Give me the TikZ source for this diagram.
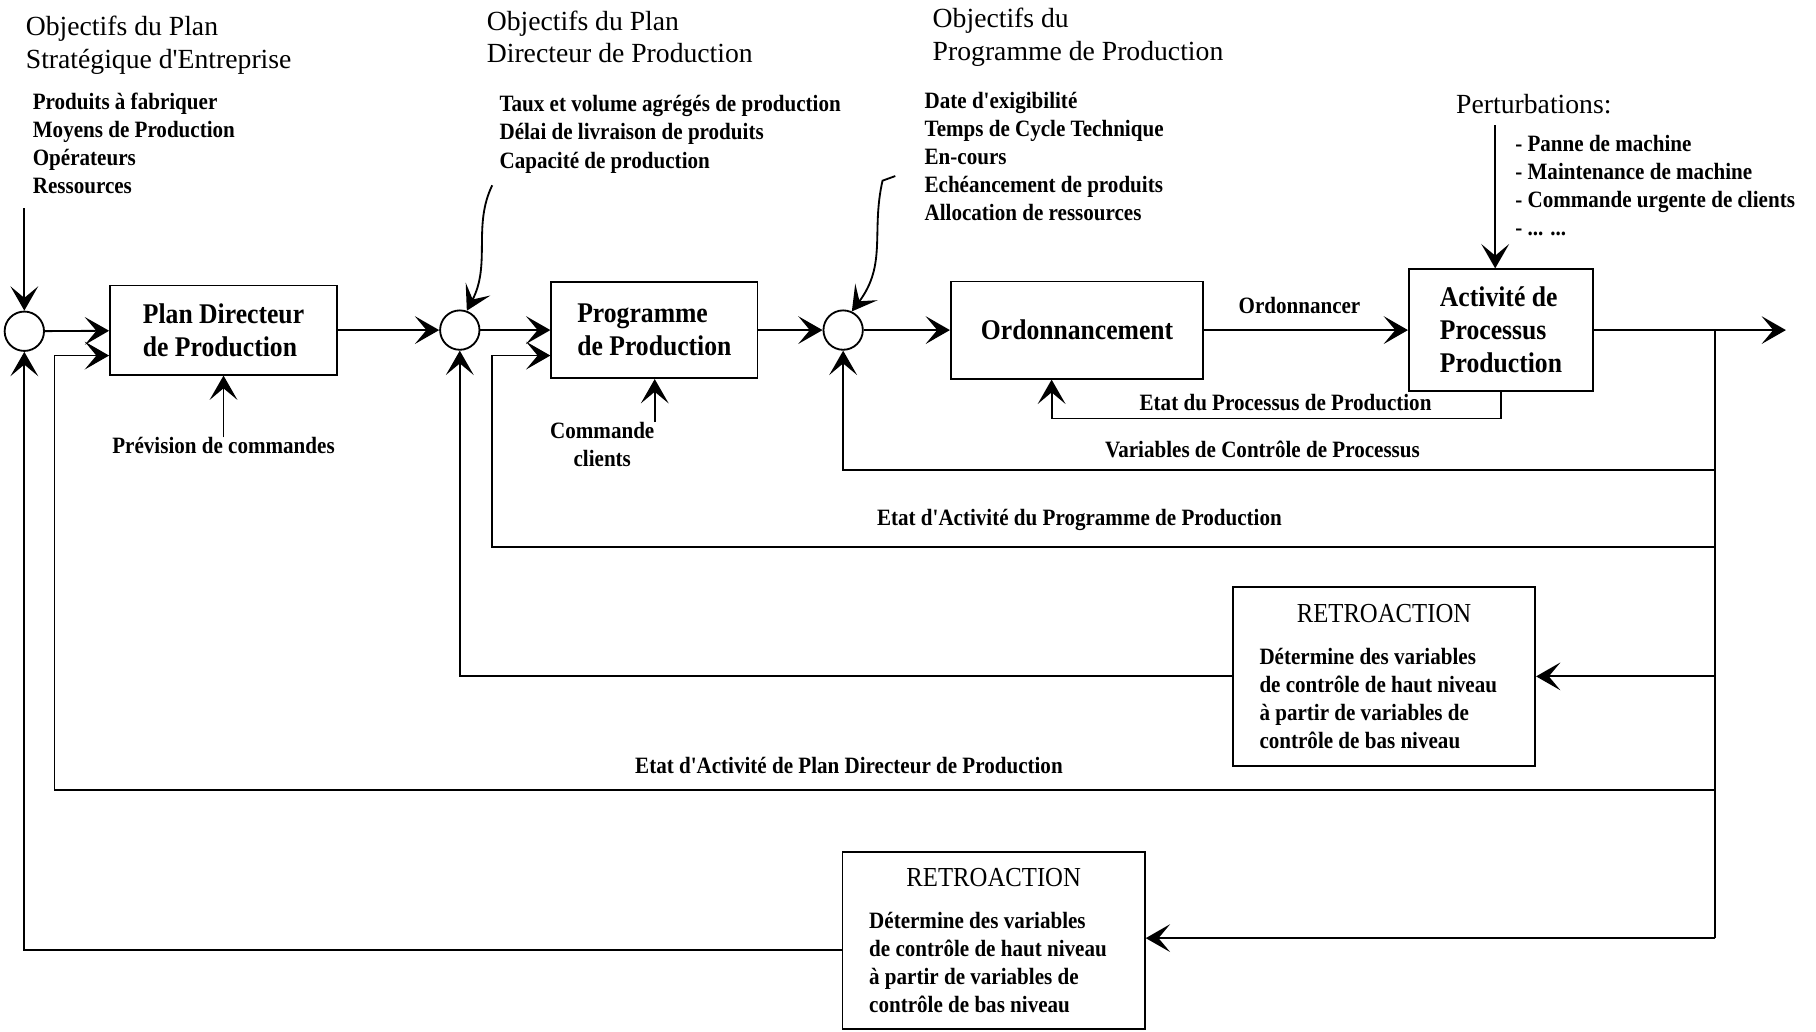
\documentclass[tikz,border=0pt]{standalone}
\usepackage{fontspec}
\setmainfont{Liberation Serif}
\newfontfamily\narrowfont[FakeStretch=0.9]{Liberation Serif}
\usepackage{tikz}
\usetikzlibrary{arrows.meta,positioning,calc}

\begin{document}
\begin{tikzpicture}[
    x=0.2mm, y=-0.2mm,
    box/.style={draw, line width=0.9pt, align=flush left, font=\narrowfont\bfseries\fontsize{14}{16.2}\selectfont},
    sum/.style={circle, draw, line width=0.9pt, minimum size=6.8mm, inner sep=0pt},
    retro/.style={draw, line width=0.9pt, align=flush left, inner xsep=4.6mm, inner ysep=2mm, text width=43mm, minimum width=52.2mm, font=\narrowfont\bfseries\fontsize{11.5}{13.7}\selectfont},
    title/.style={anchor=west, align=flush left, inner sep=0pt, font=\fontsize{13.6}{16}\selectfont},
    list/.style={anchor=west, align=flush left, inner sep=0pt, font=\narrowfont\bfseries\fontsize{11.5}{13.8}\selectfont},
    lbl/.style={inner sep=0pt, font=\narrowfont\bfseries\fontsize{11.5}{13.8}\selectfont},
    arrow/.style={-{Stealth[length=4.2mm, width=4.8mm, inset=2mm]}, line width=0.9pt},
    wire/.style={line width=0.9pt}
]
\useasboundingbox (0,0) rectangle (1568,891);

% Objectives
\node[title] (obj1) at (22,39) {Objectifs du Plan\\Stratégique d\textquotesingle Entreprise};
\node[list] (lst1) at (28,124) {Produits à fabriquer\\Moyens de Production\\Opérateurs\\Ressources};
\node[title] (obj2) at (420,32) {Objectifs du Plan\\Directeur de Production};
\node[list] (lst2) at (431,116) {Taux et volume agrégés de production\\Délai de livraison de produits\\Capacité de production};
\node[title] (obj3) at (805,32) {Objectifs du\\Programme de Production};
\node[list] (lst3) at (798,135) {Date d'exigibilité\\Temps de Cycle Technique\\En-cours\\Echéancement de produits\\Allocation de ressources};
\node[title] (pert) at (1257,90) {Perturbations:};
\node[list] (lst4) at (1308,160) {- Panne de machine\\- Maintenance de machine\\- Commande urgente de clients\\- ... ...};

% Summing junctions
\node[sum] (c1) at (21,286) {};
\node[sum] (c2) at (397,285) {};
\node[sum] (c3) at (728,285) {};

% Blocks
\node[box, minimum width=39.2mm, minimum height=15.4mm] (plan) at (193,285) {Plan Directeur\\de Production};
\node[box, minimum width=35.6mm, minimum height=16.6mm] (prog) at (565,285) {Programme\\de Production};
\node[box, minimum width=43.6mm, minimum height=16.8mm] (ord) at (930,285) {Ordonnancement};
\node[box, minimum width=31.8mm, minimum height=21mm] (act) at (1296,285) {Activité de\\Processus\\Production};

% Feedback blocks
\node[retro, minimum height=31mm] (r1) at (1195,584) {{\centering\mdseries\fontsize{13.5}{16}\selectfont RETROACTION\par}\vspace{7pt}Détermine des variables\\de contrôle de haut niveau\\à partir de variables de\\contrôle de bas niveau};
\node[retro, minimum height=30.6mm] (r2) at (858,812) {{\centering\mdseries\fontsize{13.5}{16}\selectfont RETROACTION\par}\vspace{7pt}Détermine des variables\\de contrôle de haut niveau\\à partir de variables de\\contrôle de bas niveau};

% Outside inputs
\node[lbl] (prev) at (193,385) {Prévision de commandes};
\node[lbl, align=center] (cmd) at (520,384) {Commande\\clients};

% Points
\coordinate (in1) at (21,180);
\coordinate (p0) at (1291,108);
\coordinate (w1) at (425,160);
\coordinate (w2) at (773,152);
\coordinate (tap) at (1481,285);
\coordinate (out) at (1542,285);
\coordinate (b1) at (1481,406);
\coordinate (b2) at (1481,472);
\coordinate (b3) at (1481,584);
\coordinate (b4) at (1481,682);
\coordinate (b5) at (1481,810);
\coordinate (k1) at (47,307);
\coordinate (k2) at (425,307);

% Arrows - forward
\draw[arrow] (in1) -- (c1);
\draw[arrow] (c1) -- (plan);
\draw[arrow] (plan) -- (c2);
\draw[arrow] (c2) -- (prog);
\draw[arrow] (prog) -- (c3);
\draw[arrow] (c3) -- (ord);
\draw[arrow] (ord) -- (act);
\draw[arrow] (act) -- (out);
\draw[arrow] (prev) -- (plan);
\draw[arrow] (cmd.north east) -- (cmd.north east |- prog.south);
\draw[arrow] (p0) -- (p0 |- act.north);
\draw[arrow] (w1) .. controls (408,195) and (424,228) .. (c2.70);
\draw[arrow] (w2) -- ++(-11,4) .. controls (752,200) and (766,228) .. (c3.65);

% Arrows - feedback
\draw[wire] (tap) -- (b5);
\draw[arrow] (act.south) -- ++(0,23) -| ([xshift=-4.4mm]ord.south);
\draw[arrow] (b1) -| (c3.south);
\draw[arrow] (b2) -| (k2) -- (k2 -| prog.west);
\draw[arrow] (b3) -- (b3 -| r1.east);
\draw[arrow] (r1.west) -| (c2.south);
\draw[arrow] (b4) -| (k1) -- (k1 -| plan.west);
\draw[arrow] (b5) -- (b5 -| r2.east);
\draw[arrow] ([yshift=-1.6mm]r2.west) -| (c1.south);

% Labels
\node[lbl, anchor=base] (l0) at (1122,271) {Ordonnancer};
\node[lbl, anchor=base] (l1) at (1110,354) {Etat du Processus de Production};
\node[lbl, anchor=base] (l2) at (1090,395) {Variables de Contrôle de Processus};
\node[lbl, anchor=base] (l3) at (932,454) {Etat d'Activité du Programme de Production};
\node[lbl, anchor=base] (l4) at (733,668) {Etat d'Activité de Plan Directeur de Production};

\end{tikzpicture}
\end{document}
